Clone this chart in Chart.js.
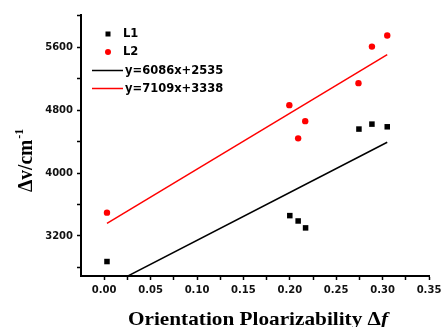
<!DOCTYPE html>
<html>
<head>
<meta charset="utf-8">
<script src="https://cdn.jsdelivr.net/npm/chart.js@4/dist/chart.umd.min.js"></script>
<style>
html,body{margin:0;padding:0;background:#fff;}
#wrap{width:441px;height:327px;position:relative;}
</style>
</head>
<body>
<div id="wrap"><canvas id="c" width="441" height="327"></canvas></div>
<script>
// ---- data ----
const seriesNames = ['L1', 'L2'];
const fitNames = ['y=6086x+2535', 'y=7109x+3338'];
const xL1 = [0.003, 0.200, 0.209, 0.217, 0.2745, 0.2885, 0.305];
const yL1 = [2874, 3458, 3390, 3302, 4559, 4622, 4588];
const xL2 = [0.003, 0.1995, 0.209, 0.2166, 0.274, 0.2885, 0.305];
const yL2 = [3496, 4863, 4441, 4660, 5143, 5608, 5749];
const fit1X = [0.003, 0.305];
const fit1Y = [2553, 4391];
const fit2X = [0.003, 0.305];
const fit2Y = [3359, 5506];
const xTickValues = [0, 0.025, 0.05, 0.075, 0.10, 0.125, 0.15, 0.175, 0.20, 0.225, 0.25, 0.275, 0.30, 0.325, 0.35];
const xTickLabels = ['0.00', '0.05', '0.10', '0.15', '0.20', '0.25', '0.30', '0.35'];
const yTickValues = [2800, 3200, 3600, 4000, 4400, 4800, 5200, 5600, 6000];
const yTickLabels = ['3200', '4000', '4800', '5600'];
const xTitle = 'Orientation Ploarizability Δ';
const xTitleItalic = 'f';
const yTitle = 'Δv/cm';
const yTitleSup = '-1';

const pts = (xs, ys) => xs.map((x, i) => ({x: x, y: ys[i]}));

const tickFont = {family: 'DejaVu Sans', weight: 'bold', size: 10};

const overlay = {
  id: 'overlay',
  afterDraw(chart) {
    const ctx = chart.ctx;
    const ds = chart.data.datasets;
    ctx.save();
    // legend
    ctx.font = 'bold 11.5px "DejaVu Sans"';
    ctx.textBaseline = 'middle';
    ctx.textAlign = 'left';
    const rows = [34, 52, 70.5, 88.5];
    ctx.fillStyle = ds[0].backgroundColor;
    ctx.fillRect(105.5, rows[0] - 2.5, 5, 5);
    ctx.fillStyle = '#000';
    ctx.fillText(ds[0].label, 123, rows[0] + 0.5);
    ctx.fillStyle = ds[1].backgroundColor;
    ctx.beginPath(); ctx.arc(108, rows[1], 3, 0, Math.PI * 2); ctx.fill();
    ctx.fillStyle = '#000';
    ctx.fillText(ds[1].label, 123, rows[1] + 0.5);
    [2, 3].forEach((k, j) => {
      ctx.strokeStyle = ds[k].borderColor;
      ctx.lineWidth = 1.5;
      ctx.beginPath(); ctx.moveTo(92, rows[2 + j]); ctx.lineTo(123, rows[2 + j]); ctx.stroke();
      ctx.fillStyle = '#000';
      ctx.fillText(ds[k].label, 125, rows[2 + j] + 0.5);
    });
    // x title (Times-like, slightly widened)
    ctx.textBaseline = 'alphabetic';
    const fBase = 'bold 19.5px "Liberation Serif"';
    const fIt = 'bold italic 19.5px "Liberation Serif"';
    ctx.font = fBase;
    const w1 = ctx.measureText(xTitle).width;
    ctx.font = fIt;
    const w2 = ctx.measureText(xTitleItalic).width;
    const sxScale = 260 / (w1 + w2);
    ctx.save();
    ctx.translate(128, 325);
    ctx.scale(sxScale, 1);
    ctx.fillStyle = '#000';
    ctx.font = fBase;
    ctx.fillText(xTitle, 0, 0);
    ctx.font = fIt;
    ctx.fillText(xTitleItalic, w1, 0);
    ctx.restore();
    // y title
    ctx.translate(32, 192);
    ctx.rotate(-Math.PI / 2);
    ctx.scale(1, 1.1);
    ctx.fillStyle = '#000';
    ctx.font = fBase;
    ctx.fillText(yTitle, 0, 0);
    const wy = ctx.measureText(yTitle).width;
    ctx.font = 'bold 12px "Liberation Serif"';
    ctx.fillText(yTitleSup, wy + 1, -8);
    ctx.restore();
  }
};

new Chart(document.getElementById('c'), {
  type: 'scatter',
  data: {
    datasets: [
      {label: seriesNames[0], data: pts(xL1, yL1), pointStyle: 'rect', pointRadius: 3.9,
       backgroundColor: '#000', borderColor: '#000', borderWidth: 0},
      {label: seriesNames[1], data: pts(xL2, yL2), pointStyle: 'circle', pointRadius: 3.2,
       backgroundColor: '#ff0000', borderColor: '#ff0000', borderWidth: 0},
      {label: fitNames[0], data: pts(fit1X, fit1Y), showLine: true, pointRadius: 0,
       borderColor: '#000', borderWidth: 1.5, backgroundColor: '#000'},
      {label: fitNames[1], data: pts(fit2X, fit2Y), showLine: true, pointRadius: 0,
       borderColor: '#ff0000', borderWidth: 1.5, backgroundColor: '#ff0000'}
    ]
  },
  options: {
    responsive: false,
    animation: false,
    devicePixelRatio: 1,
    layout: {padding: {top: 15, right: 12, left: 0, bottom: 0}},
    plugins: {legend: {display: false}, tooltip: {enabled: false}},
    scales: {
      x: {
        type: 'linear', min: -0.025, max: 0.35,
        afterBuildTicks: s => { s.ticks = xTickValues.map(v => ({value: v})); },
        afterFit: s => { s.height = 51; s.paddingLeft = 0; s.paddingRight = 0; },
        border: {color: '#000', width: 2},
        grid: {drawOnChartArea: false, drawTicks: true, tickLength: 4, tickColor: '#000', tickWidth: 1.5},
        ticks: {
          font: tickFont, color: '#111', padding: 4, autoSkip: false, maxRotation: 0,
          callback: v => { const l = v.toFixed(2); return xTickLabels.includes(l) ? l : ''; }
        }
      },
      y: {
        type: 'linear', min: 2690, max: 6010,
        afterBuildTicks: s => { s.ticks = yTickValues.map(v => ({value: v})); },
        afterFit: s => { s.width = 81; s.paddingTop = 0; s.paddingBottom = 0; },
        border: {color: '#000', width: 2},
        grid: {drawOnChartArea: false, drawTicks: true, tickLength: 4, tickColor: '#000', tickWidth: 1.5},
        ticks: {
          font: tickFont, color: '#111', padding: 4, autoSkip: false,
          callback: v => { const l = String(v); return yTickLabels.includes(l) ? l : ''; }
        }
      }
    }
  },
  plugins: [overlay]
});
</script>
</body>
</html>
